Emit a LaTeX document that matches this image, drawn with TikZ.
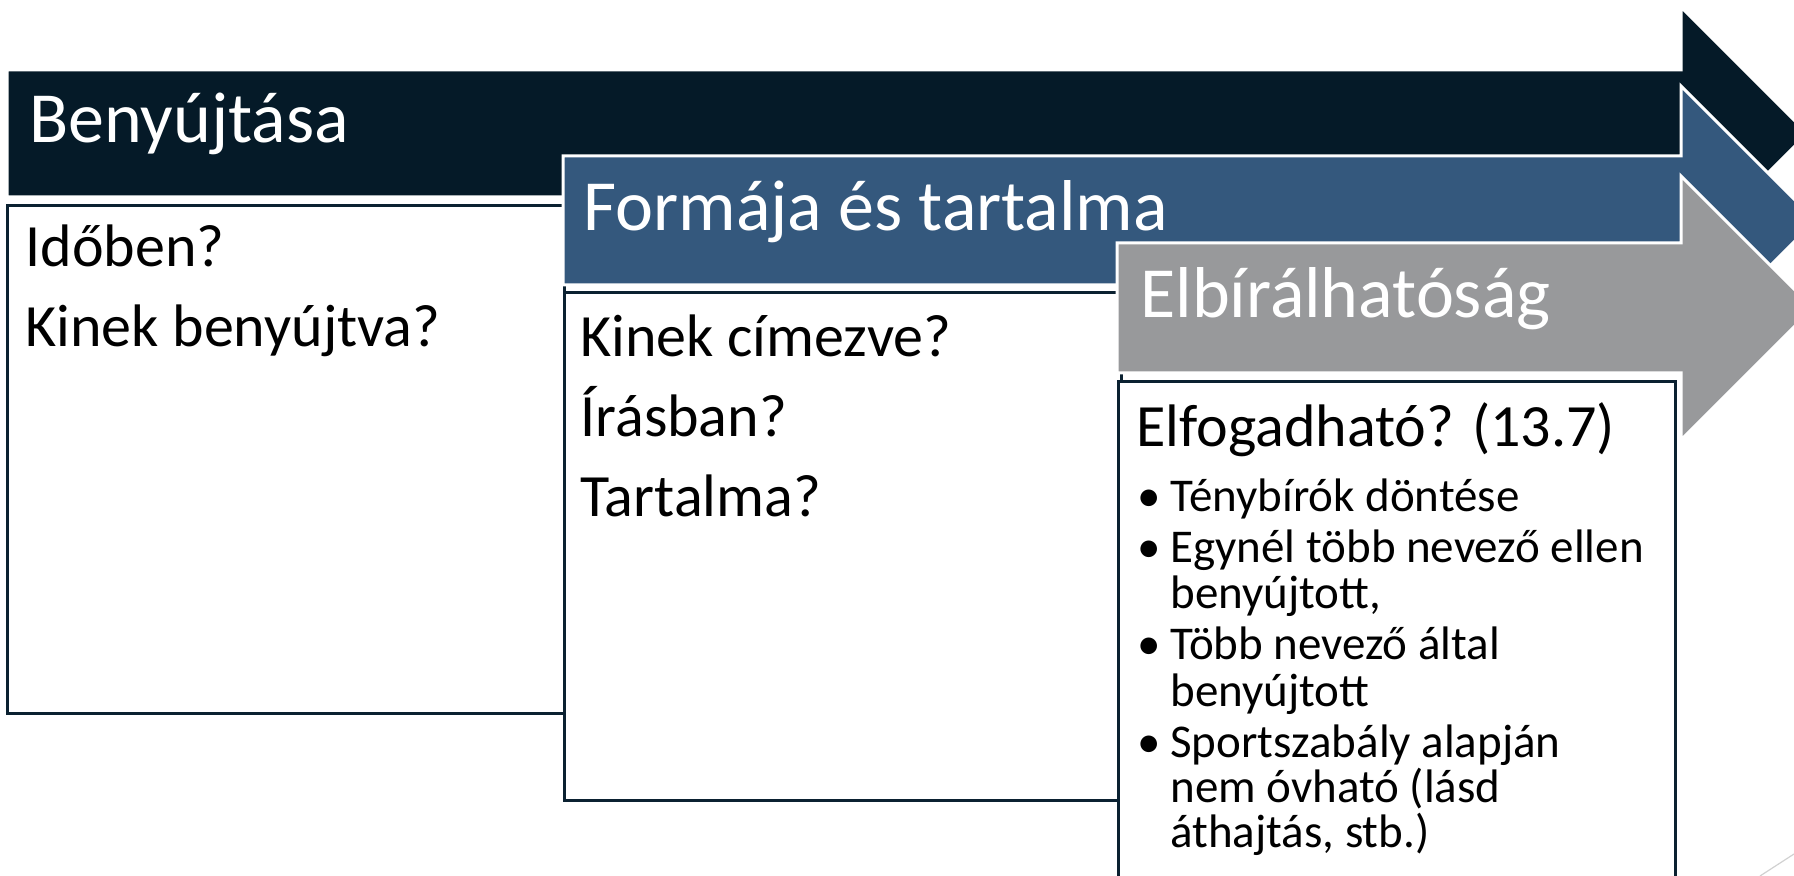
\documentclass[tikz,border=0pt]{standalone}
\usepackage{fontspec}
\setmainfont{Carlito}
\usetikzlibrary{positioning}

\definecolor{barnavy}{HTML}{051A28}
\definecolor{barblue}{HTML}{34587D}
\definecolor{bargray}{HTML}{98999B}
\definecolor{boxline}{HTML}{0B2131}

\begin{document}
\begin{tikzpicture}[x=0.5pt,y=-0.5pt,
                    bar/.style={draw=white,line width=1.5pt},
                    panel/.style={draw=boxline,fill=white,line width=1.6pt,
                                  anchor=north west,inner sep=0pt,
                                  minimum width=278.5pt,minimum height=254pt},
                    head/.style={anchor=base west,inner sep=0pt,text=white,
                                 font=\fontsize{36}{40}\selectfont},
                    body/.style={anchor=base west,inner sep=0pt,
                                 font=\fontsize{30}{36}\selectfont},
                    item/.style={anchor=base west,inner sep=0pt,
                                 font=\fontsize{23.5}{23}\selectfont}]
  \path[use as bounding box] (0,0) rectangle (1794,876);
  \clip (0,0) rectangle (1794,876);

  % first step
  \path[bar,fill=barnavy] (7,70) -- (1681,70) -- (1681,7) -- (1807.5,133.5)
        -- (1681,260) -- (1681,197) -- (7,197) -- cycle;
  \node[panel] (p1) at (6,204) {};
  \node[head]  (t1) at (29,143) {Benyújtása};
  \node[body]  (q1) at (25,267) {Időben?};
  \node[body]  (q2) at (25,347) {Kinek benyújtva?};

  % second step
  \path[bar,fill=barblue] (563,156) -- (1681,156) -- (1681,86) -- (1815.5,220.5)
        -- (1681,355) -- (1681,285) -- (563,285) -- cycle;
  \node[panel] (p2) at (563,291) {};
  \node[head]  (t2) at (583,231) {Formája és tartalma};
  \node[body]  (q3) at (580,357) {Kinek címezve?};
  \node[body]  (q4) at (580,437) {Írásban?};
  \node[body]  (q5) at (580,517) {Tartalma?};

  % third step
  \path[bar,fill=bargray] (1117,243) -- (1681,243) -- (1681,176) -- (1813,308)
        -- (1681,440) -- (1681,373) -- (1117,373) -- cycle;
  \node[panel] (p3) at (1117,380) {};
  \node[head]  (t3) at (1140,318) {Elbírálhatóság};
  \node[body]  (q6) at (1136,447) {Elfogadható? (13.7)};

  \node[item] (d1)  at (1137,512) {•};
  \node[item] (i1)  at (1170,512) {Ténybírók döntése};
  \node[item] (d2)  at (1137,563) {•};
  \node[item] (i2)  at (1170,563) {Egynél több nevező ellen};
  \node[item] (i2b) at (1170,609) {benyújtott,};
  \node[item] (d3)  at (1137,660) {•};
  \node[item] (i3)  at (1170,660) {Több nevező által};
  \node[item] (i3b) at (1170,706) {benyújtott};
  \node[item] (d4)  at (1137,757) {•};
  \node[item] (i4)  at (1170,757) {Sportszabály alapján};
  \node[item] (i4b) at (1170,802) {nem óvható (lásd};
  \node[item] (i4c) at (1170,847) {áthajtás, stb.)};

  \draw[black!18,line width=0.6pt] (1760,876) -- (1794,854);
\end{tikzpicture}
\end{document}
